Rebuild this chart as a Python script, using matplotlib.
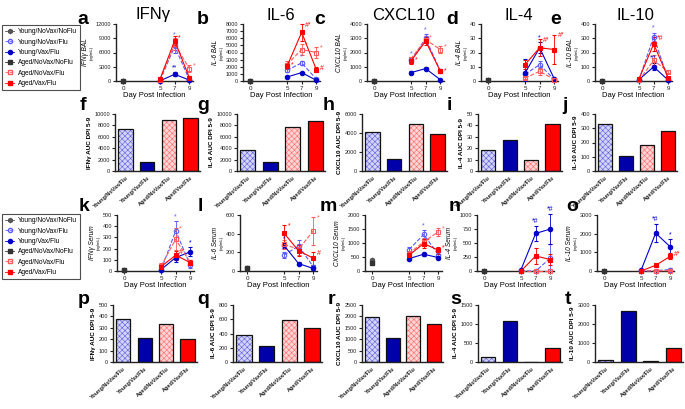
import numpy as np
import matplotlib.pyplot as plt
from matplotlib.lines import Line2D

plt.rcParams['font.family'] = ['Liberation Sans', 'DejaVu Sans']
plt.rcParams['hatch.linewidth'] = 0.4

W, H = 685, 409

days = [5, 7, 9]
groups = ['Young/NoVax/NoFlu', 'Young/NoVax/Flu', 'Young/Vax/Flu',
          'Aged/NoVax/NoFlu', 'Aged/NoVax/Flu', 'Aged/Vax/Flu']
flu_groups = ['Young/NoVax/Flu', 'Young/Vax/Flu', 'Aged/NoVax/Flu', 'Aged/Vax/Flu']
noflu_groups = ['Young/NoVax/NoFlu', 'Aged/NoVax/NoFlu']
titles = ['IFNγ', 'IL-6', 'CXCL10', 'IL-4', 'IL-10']

# BAL time courses, rows = flu_groups, cols = days 5, 7, 9
ifng_bal = [[100, 7300, 300], [50, 1400, 200], [200, 7800, 2600], [400, 8500, 700]]
ifng_bal_err = [[50, 1500, 200], [30, 400, 100], [100, 1200, 800], [150, 900, 300]]
il6_bal = [[1500, 2540, 280], [560, 1180, 100], [2300, 4420, 4000], [2070, 6820, 1600]]
il6_bal_err = [[300, 300, 150], [100, 150, 50], [500, 800, 800], [400, 1200, 400]]
cxcl10_bal = [[1450, 3000, 700], [590, 870, 90], [1550, 2900, 2210], [1410, 2800, 680]]
cxcl10_bal_err = [[150, 300, 100], [80, 80, 30], [150, 250, 250], [200, 300, 150]]
il4_bal = [[4.7, 11.5, 1], [5.6, 23.3, 1.4], [2, 6.8, 1], [11.5, 23.3, 22.1]]
il4_bal_err = [[1.5, 2.5, 0.5], [10, 4, 0.5], [0.5, 2.5, 0.3], [3, 6, 10.5]]
il10_bal = [[10, 310, 10], [10, 100, 5], [5, 145, 65], [15, 260, 20]]
il10_bal_err = [[5, 30, 5], [5, 25, 5], [3, 35, 10], [5, 50, 10]]

# serum time courses
ifng_ser = [[6, 359, 50], [12, 120, 171], [42, 284, 75], [39, 141, 75]]
ifng_ser_err = [[5, 90, 20], [5, 40, 40], [30, 100, 20], [20, 40, 20]]
il6_ser = [[171, 268, 45], [274, 79, 27], [285, 233, 432], [405, 216, 137]]
il6_ser_err = [[30, 60, 20], [30, 20, 20], [50, 60, 150], [90, 60, 70]]
cxcl10_ser = [[766, 1305, 587], [443, 599, 479], [623, 1042, 1401], [563, 982, 742]]
cxcl10_ser_err = [[80, 150, 100], [50, 50, 50], [100, 150, 150], [80, 150, 120]]
il4_ser = [[0, 0, 230], [24, 671, 749], [0, 0, 0], [0, 269, 204]]
il4_ser_err = [[0, 0, 250], [20, 130, 270], [0, 0, 0], [0, 150, 100]]
il10_ser = [[0, 20, 80], [30, 2030, 1290], [0, 10, 20], [0, 305, 790]]
il10_ser_err = [[0, 10, 80], [20, 500, 400], [0, 5, 10], [0, 50, 150]]

# day 0 controls (Young/NoVax/NoFlu, Aged/NoVax/NoFlu)
bal_d0 = [[0, 0], [0, 0], [0, 0], [1, 1], [0, 0]]
ser_d0 = [[10, 10], [35, 30], [400, 300], [0, 0], [0, 0]]

# significance marks: (flu group index, day index, symbol)
bal_marks = [
    [(0, 1, '*'), (1, 1, '**'), (3, 1, '*'), (2, 2, '*')],
    [(0, 1, '*'), (2, 1, '*'), (3, 1, '#*'), (3, 0, '*'), (2, 2, '*'), (3, 2, '#')],
    [(0, 0, '*'), (3, 0, '*'), (0, 1, '*'), (2, 1, '*'), (2, 2, '*'), (3, 2, '*')],
    [(1, 1, '*'), (3, 1, '#*'), (3, 2, '#*')],
    [(0, 1, '*'), (1, 1, '*#'), (3, 1, '*#')],
]
ser_marks = [
    [(0, 1, '*'), (2, 1, '*'), (3, 1, '#'), (1, 2, '*')],
    [(3, 0, '*'), (1, 0, '*'), (2, 2, '*'), (3, 2, '#')],
    [(0, 1, '*'), (3, 1, '*'), (2, 2, '*'), (3, 2, '*')],
    [(1, 1, '*#'), (1, 2, '*#')],
    [(1, 1, '*#'), (1, 2, '*'), (3, 2, '#*')],
]

# AUC DPI 5-9, order = flu_groups
ifng_bal_auc = [7300, 1530, 8880, 9240]
il6_bal_auc = [3650, 1590, 7650, 8700]
cxcl10_bal_auc = [4060, 1270, 4900, 3850]
il4_bal_auc = [18.2, 27.6, 9.4, 40.9]
il10_bal_auc = [327, 108, 179, 282]
ifng_ser_auc = [379, 209, 329, 200]
il6_ser_auc = [377, 227, 590, 482]
cxcl10_ser_auc = [1985, 1073, 2030, 1647]
il4_ser_auc = [126, 1069, 9, 359]
il10_ser_auc = [88, 2700, 70, 741]

styles = {
    'Young/NoVax/NoFlu': dict(color='#555555', marker='h', mfc='#555555', ls='-'),
    'Young/NoVax/Flu': dict(color='#5a5aff', marker='o', mfc='none', ls='--'),
    'Young/Vax/Flu': dict(color='#0000cc', marker='o', mfc='#0000cc', ls='-'),
    'Aged/NoVax/NoFlu': dict(color='#333333', marker='s', mfc='#333333', ls='-'),
    'Aged/NoVax/Flu': dict(color='#ff5a5a', marker='s', mfc='none', ls='--'),
    'Aged/Vax/Flu': dict(color='#ff0000', marker='s', mfc='#ff0000', ls='-'),
}
bar_face = ['#d4d4fa', '#0000aa', '#ffd4d4', '#ff0000']
bar_hatch_col = ['#5c5ce0', '#0000aa', '#ff6a6a', '#ff0000']
bar_hatch = ['xxxxxx', None, 'xxxxxx', None]

fig = plt.figure(figsize=(W / 100, H / 100), dpi=100)


def ax_px(left, top, right, bottom):
    return fig.add_axes([left / W, 1 - bottom / H, (right - left) / W, (bottom - top) / H])


def prism(ax):
    for s in ['top', 'right']:
        ax.spines[s].set_visible(False)
    for s in ['left', 'bottom']:
        ax.spines[s].set_linewidth(1.0)
        ax.spines[s].set_color('#222222')
    ax.tick_params(direction='out', length=2.5, width=0.8, pad=1, labelsize=4, colors='#222222')


def line_panel(rect, mean, err, d0, ymax, ystep, label, marks):
    ax = ax_px(*rect)
    for i, g in enumerate(noflu_groups):
        st = styles[g]
        ax.plot([0], [d0[i]], marker=st['marker'], color=st['color'], ms=3.2, ls='none',
                clip_on=False, zorder=4)
    for i, g in enumerate(flu_groups):
        st = styles[g]
        m = np.array(mean[i], dtype=float)
        e = np.array(err[i], dtype=float)
        ax.errorbar(days, m, yerr=[np.minimum(e, m), e], color=st['color'], marker=st['marker'],
                     mfc=st['mfc'], mec=st['color'], ls=st['ls'], lw=0.8, ms=3.2, mew=0.8,
                     capsize=1.5, elinewidth=0.6, capthick=0.6, clip_on=False, zorder=3)
    for gi, di, sym in marks:
        yv = mean[gi][di] + err[gi][di]
        col = styles[flu_groups[gi]]['color']
        if gi < 2:
            # young groups: mark sits above the error bar
            ax.annotate(sym, (days[di], yv), xytext=(0, 0.5), textcoords='offset points',
                        color=col, fontsize=5, ha='center', va='bottom', annotation_clip=False)
        else:
            # aged groups: mark sits to the right
            ax.annotate(sym, (days[di], yv), xytext=(2.5, -1), textcoords='offset points',
                        color=col, fontsize=5, ha='left', va='center', annotation_clip=False)
    ax.set_xlim(-1, 9.5)
    ax.set_ylim(0, ymax)
    ax.set_xticks([0, 5, 7, 9])
    ax.set_yticks(np.arange(0, ymax + ystep / 2, ystep))
    prism(ax)
    ax.tick_params(axis='x', labelsize=4.5)
    ax.set_xlabel('Day Post Infection', fontsize=5.5, labelpad=1)
    ax.set_ylabel('(pg/mL)', fontsize=3, labelpad=1.5)
    ax.annotate(label, xy=(0, 0.5), xycoords=ax.yaxis.label, xytext=(-0.5, 0),
                textcoords='offset points', rotation=90, ha='right', va='center',
                fontsize=4.7, style='italic')
    return ax


def bar_panel(rect, vals, ymax, ystep, label):
    ax = ax_px(*rect)
    x = np.arange(len(flu_groups))
    for i in range(len(x)):
        ax.bar(x[i], vals[i], width=0.67, color=bar_face[i], edgecolor=bar_hatch_col[i],
               hatch=bar_hatch[i], lw=0, zorder=2)
    ax.bar(x, vals, width=0.67, fill=False, edgecolor='#111111', lw=0.9, zorder=3)
    ax.set_xlim(-0.48, 3.44)
    ax.set_ylim(0, ymax)
    ax.set_yticks(np.arange(0, ymax + ystep / 2, ystep))
    prism(ax)
    ax.set_xticks(x)
    ax.set_xticklabels(flu_groups, rotation=42, ha='right', rotation_mode='anchor',
                       fontsize=4, fontweight='bold')
    ax.tick_params(axis='x', length=0, pad=3)
    ax.set_ylabel(label, fontsize=4.6, fontweight='bold', labelpad=2)
    return ax


def letter(x, y, s):
    fig.text(x / W, 1 - y / H, s, fontsize=14, fontweight='bold', ha='center', va='center')


# titles
for x, t in zip([153, 281, 404, 519, 635], titles):
    fig.text(x / W, 1 - 15 / H, t, fontsize=12, ha='center', va='center')

# row 1: BAL
bal_means = [ifng_bal, il6_bal, cxcl10_bal, il4_bal, il10_bal]
bal_errs = [ifng_bal_err, il6_bal_err, cxcl10_bal_err, il4_bal_err, il10_bal_err]
bal_lims = [(12000, 3000), (8000, 1000), (4000, 1000), (40, 10), (400, 100)]
bal_labels = ['IFNγ BAL', 'IL-6 BAL', 'CXCL10 BAL', 'IL-4 BAL', 'IL-10 BAL']
row1_left = [116, 243, 367, 481, 595]
for i in range(5):
    line_panel((row1_left[i], 24, row1_left[i] + 77, 81), bal_means[i], bal_errs[i],
               bal_d0[i], bal_lims[i][0], bal_lims[i][1], bal_labels[i], bal_marks[i])

# row 2: BAL AUC
bal_auc = [ifng_bal_auc, il6_bal_auc, cxcl10_bal_auc, il4_bal_auc, il10_bal_auc]
bal_auc_lims = [(10000, 2000), (10000, 2000), (6000, 2000), (50, 10), (400, 100)]
row2_x = [(115, 200), (237, 325), (362, 447), (478, 562), (595, 677)]
auc_labels = ['IFNγ AUC DPI 5-9', 'IL-6 AUC DPI 5-9', 'CXCL10 AUC DPI 5-9',
              'IL-4 AUC DPI 5-9', 'IL-10 AUC DPI 5-9']
for i in range(5):
    bar_panel((row2_x[i][0], 114, row2_x[i][1], 171), bal_auc[i],
              bal_auc_lims[i][0], bal_auc_lims[i][1], auc_labels[i])

# row 3: serum
ser_means = [ifng_ser, il6_ser, cxcl10_ser, il4_ser, il10_ser]
ser_errs = [ifng_ser_err, il6_ser_err, cxcl10_ser_err, il4_ser_err, il10_ser_err]
ser_lims = [(500, 100), (600, 200), (2000, 500), (1000, 250), (3000, 1000)]
ser_labels = ['IFNγ Serum', 'IL-6 Serum', 'CXCL10 Serum', 'IL-4 Serum', 'IL-10 Serum']
row3_left = [117, 240, 365, 477, 597]
for i in range(5):
    line_panel((row3_left[i], 215, row3_left[i] + 77, 271), ser_means[i], ser_errs[i],
               ser_d0[i], ser_lims[i][0], ser_lims[i][1], ser_labels[i], ser_marks[i])

# row 4: serum AUC
ser_auc = [ifng_ser_auc, il6_ser_auc, cxcl10_ser_auc, il4_ser_auc, il10_ser_auc]
ser_auc_lims = [(500, 100), (800, 200), (2500, 500), (1500, 500), (3000, 1000)]
row4_x = [(113, 197), (233, 322), (362, 443), (478, 562), (595, 683)]
for i in range(5):
    bar_panel((row4_x[i][0], 305, row4_x[i][1], 362), ser_auc[i],
              ser_auc_lims[i][0], ser_auc_lims[i][1], auc_labels[i])

# panel letters
for s, x, y in zip('abcde', [83, 203, 320, 452, 556], [19] * 5):
    letter(x, y, s)
for s, x, y in zip('fghij', [83, 203, 329, 449, 565], [105] * 5):
    letter(x, y, s)
for s, x, y in zip('klmno', [84, 200, 328, 455, 572], [207] * 5):
    letter(x, y, s)
for s, x, y in zip('pqrst', [84, 203, 331, 456, 568], [299] * 5):
    letter(x, y, s)

# legends
handles = [Line2D([], [], color=styles[g]['color'], marker=styles[g]['marker'],
                  mfc=styles[g]['mfc'], mec=styles[g]['color'], ls=styles[g]['ls'],
                  lw=0.6, ms=3) for g in groups]
for top in [25, 214]:
    leg = fig.legend(handles, groups, loc='upper left', bbox_to_anchor=(2 / W, 1 - top / H),
                     fontsize=4.8, frameon=True, fancybox=False, edgecolor='#222222',
                     handlelength=1.3, handletextpad=0.6, labelspacing=0.5, borderpad=0.5,
                     borderaxespad=0)
    leg.get_frame().set_linewidth(0.8)

fig.savefig('out.png', dpi=100)
